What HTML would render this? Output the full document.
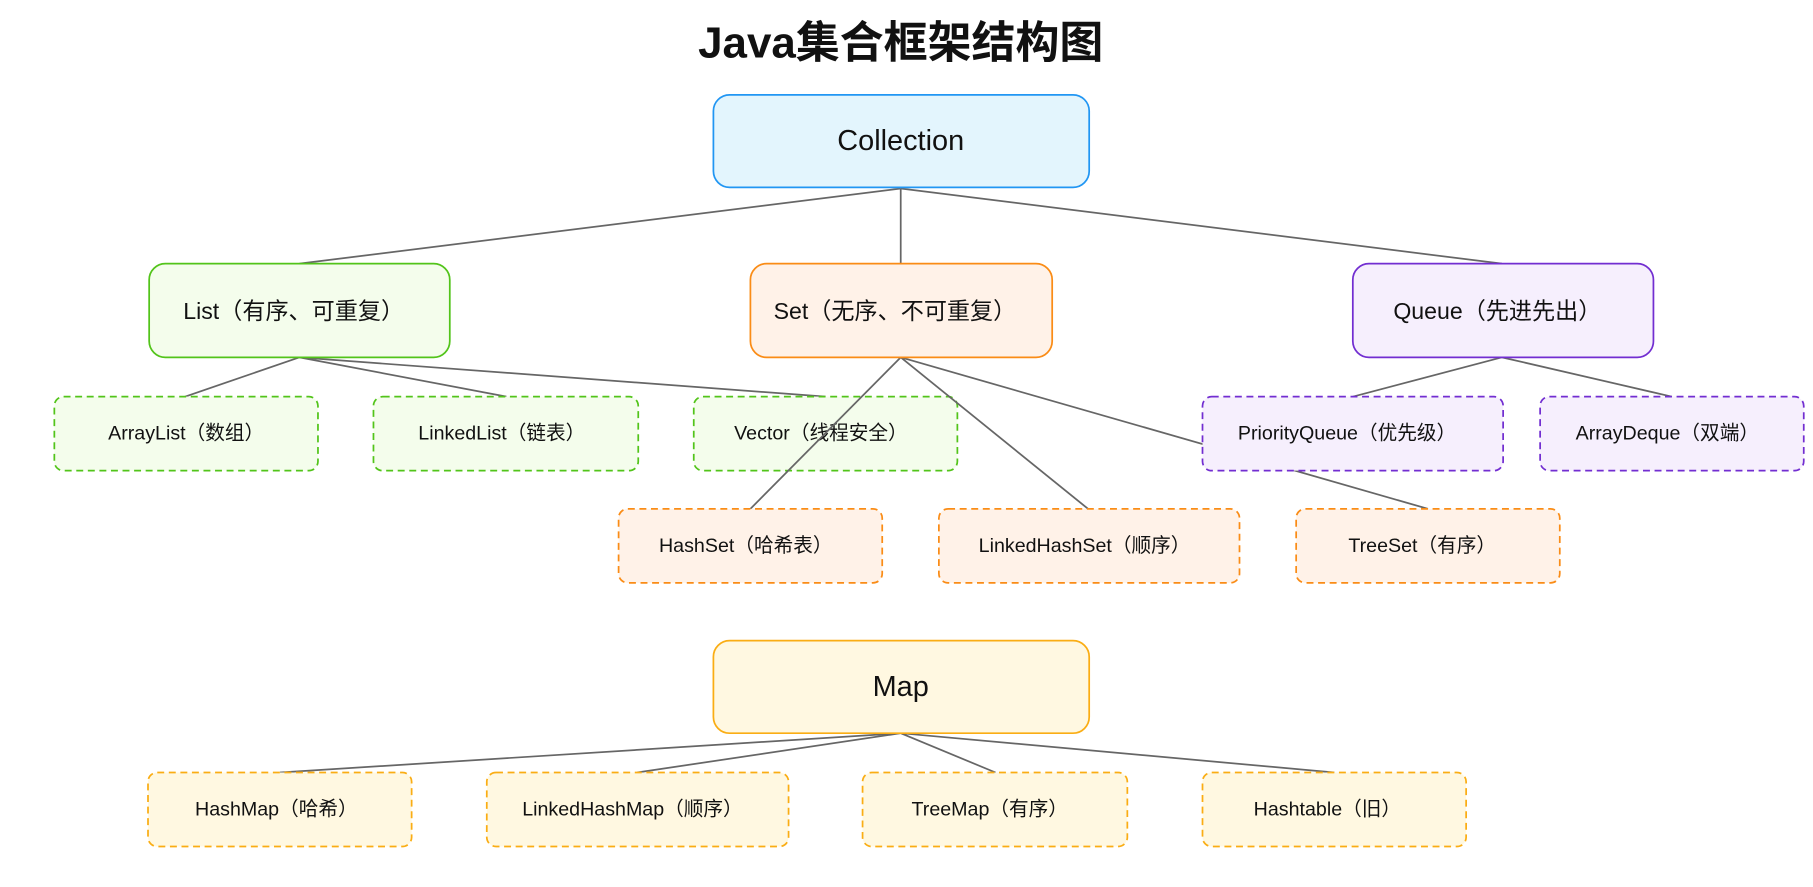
<!DOCTYPE html>
<html><head><meta charset="utf-8"><style>
html,body{margin:0;padding:0;background:#fff;}
svg{display:block;}
text{font-family:"Liberation Sans","Noto Sans CJK SC",sans-serif;fill:#111;text-anchor:middle;dominant-baseline:central;}
.l{stroke:#666;stroke-width:1.5;}
.d{stroke-dasharray:6 4;stroke-width:1.5;}
</style></head><body>
<svg width="1813" height="887" viewBox="0 0 1568 767" preserveAspectRatio="none" xmlns="http://www.w3.org/2000/svg">
<text x="779" y="37" style="font-size:38px;font-weight:bold">Java集合框架结构图</text>
<!-- Collection lines -->
<line class="l" x1="779" y1="163" x2="259" y2="228"/>
<line class="l" x1="779" y1="163" x2="779" y2="228"/>
<line class="l" x1="779" y1="163" x2="1299" y2="228"/>
<rect x="617" y="82" width="325" height="80" rx="14" fill="#e3f5fd" stroke="#2196f3" stroke-width="1.5"/>
<text x="779" y="122" style="font-size:25px">Collection</text>
<!-- List -->
<line class="l" x1="259" y1="309" x2="160" y2="343"/>
<line class="l" x1="259" y1="309" x2="438" y2="343"/>
<line class="l" x1="259" y1="309" x2="714" y2="343"/>
<rect x="129" y="228" width="260" height="81" rx="14" fill="#f4fdec" stroke="#52c41a" stroke-width="1.5"/>
<text x="254" y="269" style="font-size:20px">List（有序、可重复）</text>
<rect class="d" x="47" y="343" width="228" height="64" rx="8" fill="#f4fdec" stroke="#52c41a"/>
<text x="161" y="375" style="font-size:17px">ArrayList（数组）</text>
<rect class="d" x="323" y="343" width="229" height="64" rx="8" fill="#f4fdec" stroke="#52c41a"/>
<text x="434" y="375" style="font-size:17px">LinkedList（链表）</text>
<rect class="d" x="600" y="343" width="228" height="64" rx="8" fill="#f4fdec" stroke="#52c41a"/>
<text x="710" y="375" style="font-size:17px">Vector（线程安全）</text>
<!-- Set -->
<line class="l" x1="779" y1="309" x2="649" y2="440"/>
<line class="l" x1="779" y1="309" x2="941" y2="440"/>
<line class="l" x1="779" y1="309" x2="1235" y2="440"/>
<rect x="649" y="228" width="261" height="81" rx="14" fill="#fff2e8" stroke="#fa8c16" stroke-width="1.5"/>
<text x="774" y="269" style="font-size:20px">Set（无序、不可重复）</text>
<rect class="d" x="535" y="440" width="228" height="64" rx="8" fill="#fff2e8" stroke="#fa8c16"/>
<text x="645" y="472" style="font-size:17px">HashSet（哈希表）</text>
<rect class="d" x="812" y="440" width="260" height="64" rx="8" fill="#fff2e8" stroke="#fa8c16"/>
<text x="938" y="472" style="font-size:17px">LinkedHashSet（顺序）</text>
<rect class="d" x="1121" y="440" width="228" height="64" rx="8" fill="#fff2e8" stroke="#fa8c16"/>
<text x="1230" y="472" style="font-size:17px">TreeSet（有序）</text>
<!-- Queue -->
<line class="l" x1="1299" y1="309" x2="1170" y2="343"/>
<line class="l" x1="1299" y1="309" x2="1446" y2="343"/>
<rect x="1170" y="228" width="260" height="81" rx="14" fill="#f6effd" stroke="#722ed1" stroke-width="1.5"/>
<text x="1295" y="269" style="font-size:20px">Queue（先进先出）</text>
<rect class="d" x="1040" y="343" width="260" height="64" rx="8" fill="#f6effd" stroke="#722ed1"/>
<text x="1165" y="375" style="font-size:17px">PriorityQueue（优先级）</text>
<rect class="d" x="1332" y="343" width="228" height="64" rx="8" fill="#f6effd" stroke="#722ed1"/>
<text x="1442" y="375" style="font-size:17px">ArrayDeque（双端）</text>
<!-- Map -->
<line class="l" x1="779" y1="634" x2="242" y2="668"/>
<line class="l" x1="779" y1="634" x2="551" y2="668"/>
<line class="l" x1="779" y1="634" x2="861" y2="668"/>
<line class="l" x1="779" y1="634" x2="1154" y2="668"/>
<rect x="617" y="554" width="325" height="80" rx="14" fill="#fff8e1" stroke="#faad14" stroke-width="1.5"/>
<text x="779" y="594" style="font-size:25px">Map</text>
<rect class="d" x="128" y="668" width="228" height="64" rx="8" fill="#fff8e1" stroke="#faad14"/>
<text x="239" y="700" style="font-size:17px">HashMap（哈希）</text>
<rect class="d" x="421" y="668" width="261" height="64" rx="8" fill="#fff8e1" stroke="#faad14"/>
<text x="547" y="700" style="font-size:17px">LinkedHashMap（顺序）</text>
<rect class="d" x="746" y="668" width="229" height="64" rx="8" fill="#fff8e1" stroke="#faad14"/>
<text x="856" y="700" style="font-size:17px">TreeMap（有序）</text>
<rect class="d" x="1040" y="668" width="228" height="64" rx="8" fill="#fff8e1" stroke="#faad14"/>
<text x="1148" y="700" style="font-size:17px">Hashtable（旧）</text>
</svg>
</body></html>
